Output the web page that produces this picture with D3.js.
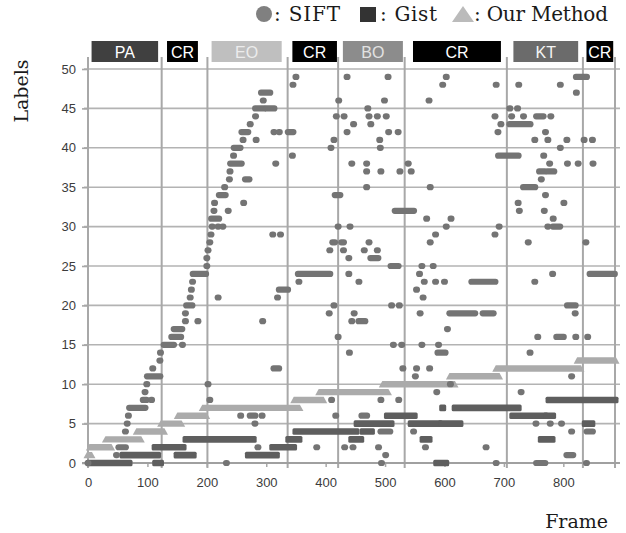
<!DOCTYPE html>
<html>
<head>
<meta charset="utf-8">
<script src="https://cdn.jsdelivr.net/npm/d3@7"></script>
<style>
body { margin: 0; background: #fff; }
</style>
</head>
<body>
<div id="chart"></div>
<script>
// scene segments along the frame axis
var segNames = ["PA", "CR", "EO", "CR", "BO", "CR", "KT", "CR"];
var segBounds = [0, 124, 201, 336, 421, 533, 705, 833, 887];
var boxStart = [6, 133, 208, 344, 429, 547, 716, 839];
var boxEnd = [118, 185, 326, 419, 530, 695, 825, 884];

var xTickValues = [0, 100, 200, 300, 400, 500, 600, 700, 800];
var yTickValues = [0, 5, 10, 15, 20, 25, 30, 35, 40, 45, 50];

// runs of identical labels: [first frame, last frame, label]
var ourRuns = [
  [0, 5, 1], [4, 38, 2], [31, 88, 3], [83, 127, 4], [124, 156, 5], [152, 198, 6],
  [194, 355, 7], [348, 395, 8], [390, 504, 9], [497, 616, 10], [610, 691, 11],
  [688, 828, 12], [825, 887, 13]
];

var gistRuns = [
  [2, 69, 0], [114, 122, 0], [59, 117, 1], [150, 177, 1], [113, 160, 2], [165, 278, 3],
  [270, 317, 1], [311, 346, 2], [338, 355, 3], [350, 451, 4], [444, 459, 3], [463, 477, 4],
  [453, 510, 5], [504, 549, 6], [544, 591, 5], [564, 574, 3], [587, 602, 0], [595, 626, 5],
  [597, 597, 7], [618, 724, 7], [715, 769, 6], [772, 782, 6], [763, 781, 3], [776, 887, 8],
  [837, 848, 5]
];

var siftRuns = [
  [0, 0, 0], [48, 48, 1], [52, 63, 2], [63, 63, 4], [66, 66, 5], [68, 68, 6], [70, 96, 7],
  [93, 98, 8], [107, 107, 8], [96, 96, 9], [99, 99, 10], [100, 121, 11], [109, 109, 12],
  [121, 121, 13], [122, 122, 14], [128, 144, 15], [159, 159, 15], [141, 156, 16], [145, 158, 17],
  [164, 164, 18], [185, 185, 18], [164, 164, 19], [166, 175, 20], [172, 172, 21], [174, 174, 22],
  [176, 176, 23], [177, 198, 24], [200, 200, 25], [200, 200, 26], [202, 202, 27], [205, 205, 28],
  [207, 207, 29], [209, 209, 30], [219, 219, 30], [227, 227, 30], [208, 220, 31], [212, 212, 32],
  [236, 236, 32], [213, 213, 33], [262, 262, 33], [221, 231, 34], [230, 230, 35], [238, 238, 36],
  [265, 271, 36], [239, 239, 37], [240, 258, 38], [245, 245, 39], [246, 256, 40], [261, 261, 41],
  [283, 283, 41], [259, 269, 42], [273, 273, 43], [282, 282, 44], [282, 296, 45], [301, 313, 45],
  [295, 295, 46], [292, 306, 47],
  [202, 202, 10], [205, 205, 8], [219, 219, 21], [233, 233, 0], [257, 257, 6], [273, 281, 6],
  [293, 293, 6], [281, 281, 5], [286, 286, 2], [294, 294, 18], [311, 311, 29], [324, 324, 29],
  [313, 321, 12], [316, 316, 38], [319, 319, 21], [322, 336, 22], [313, 313, 42], [322, 322, 42],
  [337, 345, 42], [344, 344, 39], [345, 345, 48], [350, 350, 49],
  [354, 407, 24], [355, 355, 23], [385, 385, 2], [409, 409, 40], [407, 407, 27], [406, 406, 19],
  [410, 410, 8], [414, 414, 41], [414, 414, 20], [412, 415, 28], [417, 417, 6], [416, 424, 34],
  [418, 418, 44],
  [421, 421, 30], [421, 421, 16], [422, 422, 46], [427, 430, 28], [430, 430, 27], [431, 431, 44],
  [432, 432, 2], [436, 436, 49], [436, 436, 42], [439, 439, 24], [439, 439, 26], [440, 440, 14],
  [441, 441, 30], [444, 444, 38], [444, 444, 18], [446, 446, 2], [447, 447, 43], [448, 448, 19],
  [456, 456, 23], [456, 466, 18], [461, 469, 6], [465, 465, 27], [469, 469, 38], [469, 469, 37],
  [469, 469, 35], [471, 471, 45], [473, 473, 44], [473, 473, 28], [476, 476, 43], [476, 488, 26],
  [487, 487, 27], [487, 487, 44], [489, 489, 2], [491, 491, 41], [492, 492, 40], [493, 493, 37],
  [493, 493, 8], [493, 508, 4], [494, 494, 0], [499, 499, 46], [501, 501, 1], [502, 502, 44],
  [505, 505, 49], [506, 506, 42], [510, 522, 25], [511, 511, 20], [514, 514, 15], [517, 548, 32],
  [522, 522, 42], [523, 523, 8], [524, 524, 20], [525, 525, 37], [528, 528, 15], [530, 530, 12],
  [539, 539, 38], [544, 544, 37], [548, 548, 4], [551, 551, 11], [553, 553, 12], [553, 553, 22],
  [558, 558, 24], [559, 559, 19], [562, 562, 25], [562, 562, 15], [564, 564, 21], [566, 566, 23],
  [568, 568, 2], [570, 570, 31], [574, 574, 46], [575, 575, 12], [576, 576, 35], [576, 576, 28],
  [581, 581, 25], [585, 585, 29], [585, 585, 23], [587, 587, 9], [590, 590, 15], [589, 601, 14],
  [597, 597, 48], [600, 600, 23], [603, 603, 49], [603, 603, 30], [605, 605, 17], [609, 651, 19],
  [665, 682, 19], [611, 611, 31], [610, 610, 10], [646, 685, 23], [670, 670, 2], [685, 685, 44],
  [685, 685, 29], [687, 687, 0], [687, 687, 48], [690, 690, 42], [691, 724, 39], [692, 692, 30],
  [695, 695, 43],
  [710, 744, 43], [710, 710, 45], [723, 723, 45], [713, 713, 44], [724, 724, 33], [726, 726, 32],
  [725, 725, 48], [729, 729, 9], [733, 733, 44], [733, 752, 35], [741, 741, 28], [744, 744, 14],
  [752, 752, 41], [752, 752, 23], [754, 754, 5], [755, 769, 0], [755, 766, 44], [757, 757, 16],
  [760, 768, 37], [774, 784, 37], [763, 763, 36], [767, 767, 39], [768, 768, 32], [770, 770, 42],
  [770, 770, 34], [774, 774, 41], [774, 774, 30], [777, 777, 38], [778, 778, 5], [779, 779, 44],
  [782, 782, 24], [783, 794, 30], [783, 783, 31], [789, 800, 16], [795, 795, 40], [795, 795, 48],
  [797, 797, 5], [801, 801, 33], [806, 806, 41], [807, 807, 38], [807, 820, 20], [806, 816, 1],
  [814, 814, 11], [814, 814, 4], [820, 820, 19], [821, 821, 16], [822, 822, 47], [822, 839, 49],
  [825, 825, 38],
  [835, 835, 41], [838, 838, 28], [839, 839, 0], [840, 849, 4], [841, 841, 16], [845, 886, 24],
  [849, 849, 41], [850, 850, 38]
];

var boxFill = { PA: "#404040", CR: "#000000", EO: "#bfbfbf", BO: "#8c8c8c", KT: "#6b6b6b" };
var boxInk = { PA: "#ffffff", CR: "#ffffff", EO: "#ececec", BO: "#e2e2e2", KT: "#f4f4f4" };

var W = 626, H = 533;
var serif = "'DejaVu Serif', 'Liberation Serif', serif";
var sans = "'Liberation Sans', Arial, sans-serif";

var svg = d3.select("#chart").append("svg")
    .attr("width", W)
    .attr("height", H)
    .style("background", "#fff");

var x = d3.scaleLinear().domain([0, 887]).range([88, 615]);
var y = d3.scaleLinear().domain([0, 50]).range([463, 69]);

// horizontal grid
svg.append("g").selectAll("line")
    .data(yTickValues.slice(1))
    .enter().append("line")
    .attr("x1", 84).attr("x2", 620)
    .attr("y1", function(d) { return y(d); })
    .attr("y2", function(d) { return y(d); })
    .attr("stroke", "#b3b3b3")
    .attr("stroke-width", 1.6);

// segment separators
svg.append("g").selectAll("line")
    .data(segBounds)
    .enter().append("line")
    .attr("x1", function(d) { return x(d); })
    .attr("x2", function(d) { return x(d); })
    .attr("y1", 57).attr("y2", 468)
    .attr("stroke", "#a8a8a8")
    .attr("stroke-width", 2);

// y axis
var yAxis = svg.append("g")
    .attr("transform", "translate(88,0)")
    .call(d3.axisLeft(y).tickValues(yTickValues).tickSize(6).tickSizeOuter(0).tickPadding(6));
yAxis.select(".domain").remove();
yAxis.selectAll(".tick line").attr("stroke", "#a8a8a8").attr("stroke-width", 1.6);
yAxis.selectAll("text").attr("fill", "#3c3c3c").style("font-size", "13px").style("font-family", sans);

// x axis
var xAxis = svg.append("g")
    .attr("transform", "translate(0,463)")
    .call(d3.axisBottom(x).tickValues(xTickValues).tickSize(4).tickSizeOuter(0).tickPadding(11));
xAxis.select(".domain").remove();
xAxis.selectAll(".tick line").attr("stroke", "#a8a8a8").attr("stroke-width", 1.5);
xAxis.selectAll("text").attr("fill", "#3c3c3c").style("font-size", "13px").style("font-family", sans);

svg.append("line")
    .attr("x1", 82).attr("x2", 620)
    .attr("y1", y(0)).attr("y2", y(0))
    .attr("stroke", "#a0a0a0").attr("stroke-width", 2.2);

// segment label boxes
var boxes = svg.append("g").selectAll("g")
    .data(segNames)
    .enter().append("g");

boxes.append("rect")
    .attr("x", function(d, i) { return x(boxStart[i]); })
    .attr("width", function(d, i) { return x(boxEnd[i]) - x(boxStart[i]); })
    .attr("y", 41)
    .attr("height", 21)
    .attr("fill", function(d) { return boxFill[d]; });

boxes.append("text")
    .attr("x", function(d, i) { return (x(boxStart[i]) + x(boxEnd[i])) / 2; })
    .attr("y", 57.5)
    .attr("text-anchor", "middle")
    .attr("fill", function(d) { return boxInk[d]; })
    .style("font-family", sans)
    .style("font-size", "16px")
    .text(function(d) { return d; });

// OurMethod: triangles merge into trapezoid strips
svg.append("g").selectAll("path")
    .data(ourRuns)
    .enter().append("path")
    .attr("fill", "#ababab")
    .attr("d", function(d) {
        var x0 = x(d[0]), x1 = x(d[1]), yc = y(d[2]);
        return "M" + (x0 - 4.5) + "," + (yc + 3.2) +
               "L" + (x0 - 1) + "," + (yc - 3.2) +
               "L" + (x1 + 1) + "," + (yc - 3.2) +
               "L" + (x1 + 4.5) + "," + (yc + 3.2) + "Z";
    });

// Gist: squares merge into bars
svg.append("g").selectAll("rect")
    .data(gistRuns)
    .enter().append("rect")
    .attr("fill", "#5e5e5e")
    .attr("x", function(d) { return x(d[0]) - 3.5; })
    .attr("width", function(d) { return x(d[1]) - x(d[0]) + 7; })
    .attr("y", function(d) { return y(d[2]) - 3.3; })
    .attr("height", 6.6)
    .attr("rx", 1.5);

// SIFT: circles merge into capsules
svg.append("g").selectAll("rect")
    .data(siftRuns)
    .enter().append("rect")
    .attr("fill", "#747474")
    .attr("x", function(d) { return x(d[0]) - 3.5; })
    .attr("width", function(d) { return x(d[1]) - x(d[0]) + 7; })
    .attr("y", function(d) { return y(d[2]) - 3.1; })
    .attr("height", 6.2)
    .attr("rx", 3.1);

// legend
var legend = svg.append("g");
legend.append("circle").attr("cx", 264).attr("cy", 14).attr("r", 8).attr("fill", "#808080");
legend.append("text").attr("x", 274).attr("y", 21).attr("textLength", 66).text(": SIFT");
legend.append("rect").attr("x", 360).attr("y", 7).attr("width", 16).attr("height", 15).attr("fill", "#333333");
legend.append("text").attr("x", 380).attr("y", 21).attr("textLength", 57).text(": Gist");
legend.append("path").attr("d", "M452,22L463,6L474,22Z").attr("fill", "#bbbbbb");
legend.append("text").attr("x", 474).attr("y", 21).attr("textLength", 134).text(": Our Method");
legend.selectAll("text")
    .attr("fill", "#1a1a1a")
    .style("font-family", serif)
    .style("font-size", "20px");

// axis titles
svg.append("text")
    .attr("transform", "translate(28,91) rotate(-90)")
    .attr("text-anchor", "middle")
    .attr("fill", "#1a1a1a")
    .style("font-family", serif)
    .style("font-size", "19px")
    .text("Labels");

svg.append("text")
    .attr("x", 608)
    .attr("y", 528)
    .attr("text-anchor", "end")
    .attr("fill", "#1a1a1a")
    .style("font-family", serif)
    .style("font-size", "19px")
    .text("Frame");
</script>
</body>
</html>
